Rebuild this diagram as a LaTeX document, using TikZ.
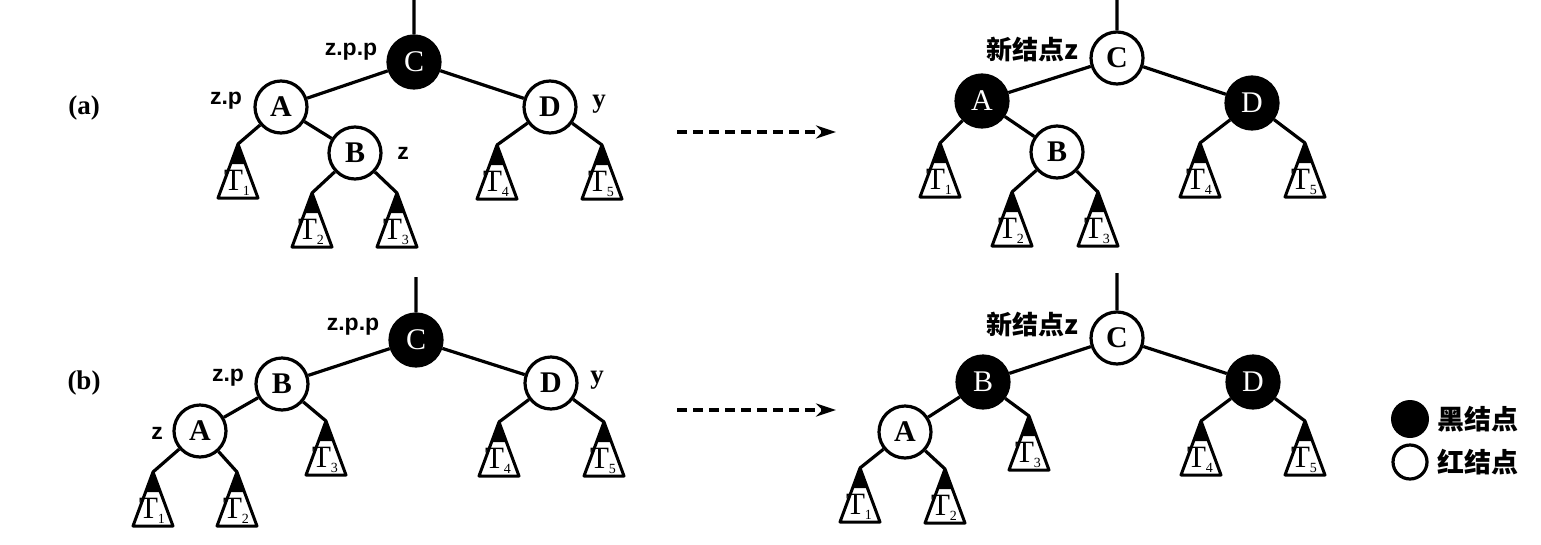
\documentclass[tikz,border=0pt]{standalone}
\usepackage{fontspec}
\setmainfont{Liberation Serif}
\newfontfamily\labsf{Liberation Sans}
\newfontfamily\cjk{Noto Sans CJK SC}
\usetikzlibrary{arrows.meta}
\tikzset{
 edge/.style={line width=3.2pt},
 wnode/.style={circle, draw, line width=3.2pt, fill=white, minimum size=52pt, inner sep=0pt, font=\fontsize{30}{30}\selectfont\bfseries},
 bnode/.style={circle, draw, line width=3.2pt, fill=black, minimum size=52pt, inner sep=0pt, text=white, font=\fontsize{30}{30}\selectfont},
 lab/.style={font=\labsf\bfseries\fontsize{23}{23}\selectfont, inner sep=0pt},
 serlab/.style={font=\bfseries\fontsize{27}{27}\selectfont, inner sep=0pt},
 cjklab/.style={font=\cjk\bfseries\fontsize{26}{26}\selectfont, inner sep=0pt},
 leglab/.style={font=\cjk\bfseries\fontsize{27}{27}\selectfont, inner sep=0pt, anchor=west},
 panlab/.style={font=\bfseries\fontsize{27}{27}\selectfont, inner sep=0pt},
 trans/.style={line width=3.5pt, dash pattern=on 10pt off 6pt, -{Stealth[length=20pt,width=13pt]}},
 pics/subtree/.style={code={
   \coordinate (-top) at (0,0);
   \draw[line width=3pt, line join=round] (0,0) -- (-20,54) -- (20,54) -- cycle;
   \fill (0,0) -- (-7.4,20) -- (7.4,20) -- cycle;
   \node[anchor=base, inner sep=0pt] at (-1,46) {\fontsize{31}{31}\selectfont T\raisebox{-5pt}{\fontsize{14}{14}\selectfont #1}};
 }}
}
\begin{document}
\begin{tikzpicture}[x=1pt,y=-1pt]
\useasboundingbox (0,0) rectangle (1541,544);
% ---------- (a) left ----------
\node[panlab] (la) at (84,108) {(a)};
\coordinate (aTop) at (414,0);
\pic (aT1) at (238,144) {subtree=1};
\pic (aT2) at (312,193) {subtree=2};
\pic (aT3) at (397,193) {subtree=3};
\pic (aT4) at (497,145) {subtree=4};
\pic (aT5) at (602,145) {subtree=5};
\node[bnode] (aC) at (414,62) {C};
\node[wnode] (aA) at (281,107) {A};
\node[wnode] (aB) at (355,153) {B};
\node[wnode] (aD) at (550,107) {D};
\draw[edge] (aTop) -- (aC) (aC) -- (aA) (aC) -- (aD) (aA) -- (aT1-top) (aA) -- (aB)
  (aB) -- (aT2-top) (aB) -- (aT3-top) (aD) -- (aT4-top) (aD) -- (aT5-top);
\node[lab] (azpp) at (351,52) {z.p.p};
\node[lab] (azp) at (226,101) {z.p};
\node[lab] (az) at (403,153) {z};
\node[serlab] (ay) at (599,104) {y};
\coordinate (aArrS) at (677,132);
\coordinate (aArrE) at (836,132);
\draw[trans] (aArrS) -- (aArrE);
% ---------- (a) right ----------
\coordinate (raTop) at (1117,0);
\pic (raT1) at (940,143) {subtree=1};
\pic (raT2) at (1012,192) {subtree=2};
\pic (raT3) at (1098,192) {subtree=3};
\pic (raT4) at (1200,143) {subtree=4};
\pic (raT5) at (1305,143) {subtree=5};
\node[wnode] (raC) at (1117,58) {C};
\node[bnode] (raA) at (982,101) {A};
\node[wnode] (raB) at (1057,152) {B};
\node[bnode] (raD) at (1252,103) {D};
\draw[edge] (raTop) -- (raC) (raC) -- (raA) (raC) -- (raD) (raA) -- (raT1-top) (raA) -- (raB)
  (raB) -- (raT2-top) (raB) -- (raT3-top) (raD) -- (raT4-top) (raD) -- (raT5-top);
\node[cjklab] (raz) at (1032,50) {新结点z};
% ---------- (b) left ----------
\node[panlab] (lb) at (84,383) {(b)};
\coordinate (bTop) at (416,277);
\pic (bT1) at (153,472) {subtree=1};
\pic (bT2) at (237,472) {subtree=2};
\pic (bT3) at (326,421) {subtree=3};
\pic (bT4) at (499,422) {subtree=4};
\pic (bT5) at (604,422) {subtree=5};
\node[bnode] (bC) at (416,340) {C};
\node[wnode] (bB) at (282,384) {B};
\node[wnode] (bA) at (200,431) {A};
\node[wnode] (bD) at (551,383) {D};
\draw[edge] (bTop) -- (bC) (bC) -- (bB) (bC) -- (bD) (bB) -- (bA) (bB) -- (bT3-top)
  (bA) -- (bT1-top) (bA) -- (bT2-top) (bD) -- (bT4-top) (bD) -- (bT5-top);
\node[lab] (bzpp) at (353,327) {z.p.p};
\node[lab] (bzp) at (228,378) {z.p};
\node[lab] (bz) at (157,433) {z};
\node[serlab] (by) at (597,380) {y};
\coordinate (bArrS) at (677,410);
\coordinate (bArrE) at (836,410);
\draw[trans] (bArrS) -- (bArrE);
% ---------- (b) right ----------
\coordinate (rbTop) at (1117,273);
\pic (rbT1) at (860,468) {subtree=1};
\pic (rbT2) at (945,469) {subtree=2};
\pic (rbT3) at (1029,416) {subtree=3};
\pic (rbT4) at (1201,421) {subtree=4};
\pic (rbT5) at (1305,421) {subtree=5};
\node[wnode] (rbC) at (1117,338) {C};
\node[bnode] (rbB) at (983,382) {B};
\node[wnode] (rbA) at (905,432) {A};
\node[bnode] (rbD) at (1253,382) {D};
\draw[edge] (rbTop) -- (rbC) (rbC) -- (rbB) (rbC) -- (rbD) (rbB) -- (rbA) (rbB) -- (rbT3-top)
  (rbA) -- (rbT1-top) (rbA) -- (rbT2-top) (rbD) -- (rbT4-top) (rbD) -- (rbT5-top);
\node[cjklab] (rbz) at (1032,325) {新结点z};
% ---------- legend ----------
\node[circle, fill=black, minimum size=38pt, inner sep=0pt] (legB) at (1410,419) {};
\node[leglab] (legBt) at (1437,419) {黑结点};
\node[circle, draw, line width=3.2pt, fill=white, minimum size=34pt, inner sep=0pt] (legW) at (1410,462) {};
\node[leglab] (legWt) at (1437,462) {红结点};
\end{tikzpicture}
\end{document}
